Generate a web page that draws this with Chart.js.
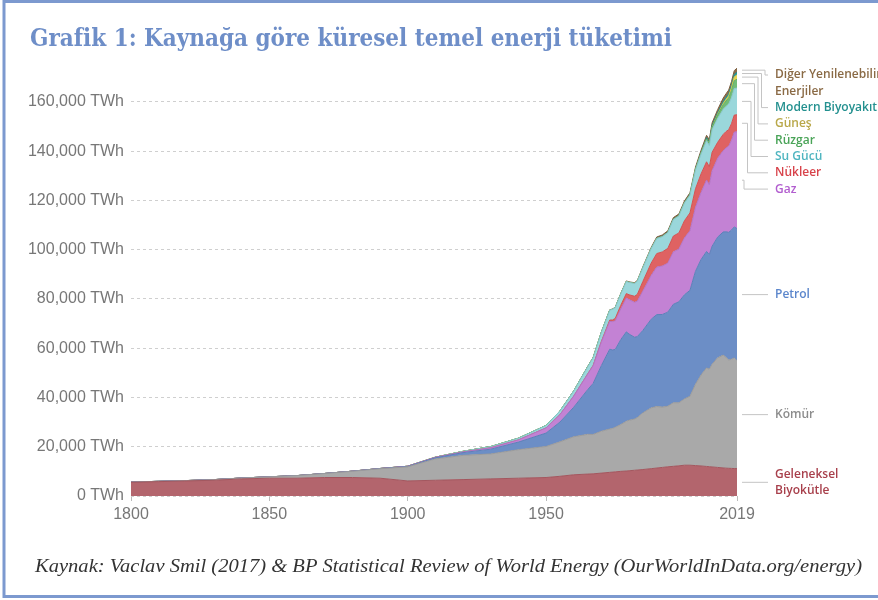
<!DOCTYPE html>
<html lang="tr">
<head>
<meta charset="utf-8">
<title>Grafik 1</title>
<script src="https://cdn.jsdelivr.net/npm/chart.js@4.4.0/dist/chart.umd.min.js"></script>
<style>
  html, body { margin: 0; padding: 0; background: #fff; }
  #kutu { position: relative; width: 878px; height: 600px; overflow: hidden; }
</style>
</head>
<body>
<div id="kutu"><canvas id="grafik" width="878" height="600"></canvas></div>
<script>
// Yıllar (1965'ten sonra seçilmiş yıllar)
var yillar = [1800, 1810, 1820, 1830, 1840, 1850, 1860, 1870, 1880, 1890,
  1900, 1910, 1920, 1930, 1940, 1950, 1955, 1960, 1965, 1967,
  1970, 1973, 1974, 1975, 1977, 1979, 1980, 1982, 1983, 1985,
  1988, 1990, 1992, 1994, 1996, 1998, 2000, 2002, 2004, 2006,
  2008, 2009, 2010, 2012, 2014, 2015, 2016, 2017, 2018, 2019];

// Kaynaklara göre tüketim (TWh)
var gelenekselBiyokutle = [5556, 5833, 6111, 6389, 6944, 7222, 7222, 7500, 7500, 7222,
  6111, 6389, 6667, 6944, 7222, 7500, 8000, 8611, 8900, 9000,
  9300, 9600, 9700, 9800, 10000, 10150, 10250, 10450, 10550, 10750,
  11100, 11350, 11600, 11850, 12050, 12250, 12500, 12500, 12350, 12200,
  12000, 11900, 11800, 11600, 11400, 11300, 11250, 11200, 11150, 11111];
var komur = [97, 128, 153, 264, 356, 569, 1061, 1642, 2542, 3856,
  5728, 8656, 9833, 10125, 11586, 12603, 14000, 15442, 16140, 16000,
  17000, 17600, 17700, 18100, 19000, 20200, 20500, 20800, 21300, 23000,
  24700, 25000, 24500, 24600, 25800, 25600, 26900, 28000, 33000, 36900,
  40000, 39600, 41700, 44500, 45800, 45000, 44000, 44300, 44900, 43849];
var petrol = [0, 0, 0, 0, 0, 0, 0, 6, 33, 89,
  181, 461, 1111, 1950, 3089, 5444, 8000, 12000, 18100, 20700,
  26700, 32400, 31900, 31600, 34500, 36300, 35000, 33200, 32900, 33500,
  36000, 37300, 37600, 38200, 40000, 41000, 42300, 43000, 45900, 46900,
  47300, 46500, 47900, 49000, 50000, 51000, 51800, 52500, 53200, 53620];
var gaz = [0, 0, 0, 0, 0, 0, 0, 0, 0, 0,
  64, 161, 233, 553, 875, 2092, 3000, 4500, 6300, 7200,
  9600, 11300, 11500, 11600, 12500, 13700, 14000, 14200, 14400, 16000,
  17800, 19300, 19700, 19900, 21300, 21400, 23100, 24200, 26000, 27200,
  29000, 28400, 30700, 32000, 33000, 34000, 35000, 36400, 38500, 39292];
var nukleer = [0, 0, 0, 0, 0, 0, 0, 0, 0, 0,
  0, 0, 0, 0, 0, 0, 0, 20, 70, 110,
  220, 540, 680, 1000, 1450, 1850, 1950, 2450, 2750, 3900,
  5000, 5500, 5700, 6000, 6400, 6550, 6950, 7250, 7500, 7550,
  7400, 7300, 7450, 6500, 6600, 6650, 6700, 6750, 6900, 6923];
var suGucu = [0, 0, 0, 0, 0, 0, 0, 0, 0, 0,
  0, 100, 300, 500, 700, 1000, 1500, 2100, 2900, 3150,
  3700, 4000, 4300, 4400, 4600, 4900, 5000, 5200, 5350, 5600,
  5900, 6100, 6200, 6400, 6700, 6900, 7200, 7200, 7600, 8100,
  8600, 8600, 9200, 9700, 10200, 10200, 10400, 10600, 10800, 10855];
var ruzgar = [0, 0, 0, 0, 0, 0, 0, 0, 0, 0,
  0, 0, 0, 0, 0, 0, 0, 0, 0, 0,
  0, 0, 0, 0, 0, 0, 0, 0, 0, 0,
  5, 10, 20, 30, 50, 80, 85, 140, 230, 350,
  580, 730, 900, 1400, 1860, 2200, 2500, 2900, 3200, 3540];
var gunes = [0, 0, 0, 0, 0, 0, 0, 0, 0, 0,
  0, 0, 0, 0, 0, 0, 0, 0, 0, 0,
  0, 0, 0, 0, 0, 0, 0, 0, 0, 0,
  0, 0, 0, 0, 0, 0, 0, 0, 5, 15,
  35, 55, 90, 260, 500, 650, 850, 1160, 1470, 1793];
var modernBiyoyakit = [0, 0, 0, 0, 0, 0, 0, 0, 0, 0,
  0, 0, 0, 0, 0, 0, 0, 0, 0, 0,
  0, 0, 0, 0, 0, 0, 0, 0, 0, 0,
  0, 120, 120, 130, 130, 130, 110, 130, 180, 300,
  580, 620, 690, 700, 850, 870, 880, 930, 1030, 1111];
var digerYenilenebilir = [0, 0, 0, 0, 0, 0, 0, 0, 0, 0,
  0, 0, 0, 0, 0, 0, 0, 0, 90, 100,
  120, 150, 160, 170, 200, 240, 260, 300, 320, 380,
  450, 500, 540, 560, 600, 620, 650, 700, 770, 850,
  950, 1000, 1100, 1200, 1350, 1400, 1450, 1500, 1560, 1614];

// Eksen etiketleri
var xEtiketleri = [1800, 1850, 1900, 1950, 2019];
var yEtiketleri = [0, 20000, 40000, 60000, 80000, 100000, 120000, 140000, 160000];

// Seriler: aşağıdan yukarı
var seriler = [
  { ad: ['Geleneksel', 'Biyokütle'], veri: gelenekselBiyokutle, renk: '#b3656d', cizgi: '#a2565e', yazi: '#a8404c' },
  { ad: ['Kömür'], veri: komur, renk: '#a9a9a9', cizgi: '#9a9a9a', yazi: '#8c8c8c' },
  { ad: ['Petrol'], veri: petrol, renk: '#6c8ec6', cizgi: '#5d7fb8', yazi: '#5b86cc' },
  { ad: ['Gaz'], veri: gaz, renk: '#c382d4', cizgi: '#b273c4', yazi: '#b25ecf' },
  { ad: ['Nükleer'], veri: nukleer, renk: '#df6262', cizgi: '#cf5454', yazi: '#d8434b' },
  { ad: ['Su Gücü'], veri: suGucu, renk: '#9ad7db', cizgi: '#88c6ca', yazi: '#4fb5c0' },
  { ad: ['Rüzgar'], veri: ruzgar, renk: '#72bd77', cizgi: '#62ad67', yazi: '#4aa458' },
  { ad: ['Güneş'], veri: gunes, renk: '#e6d855', cizgi: '#d6c845', yazi: '#b9a84a' },
  { ad: ['Modern Biyoyakıt'], veri: modernBiyoyakit, renk: '#2e9a9c', cizgi: '#25898b', yazi: '#23908f' },
  { ad: ['Diğer Yenilenebilir', 'Enerjiler'], veri: digerYenilenebilir, renk: '#8c6c4a', cizgi: '#7d5f40', yazi: '#8a6a45' }
];

var datasets = seriler.map(function (s, i) {
  return {
    label: s.ad.join(' '),
    data: yillar.map(function (yil, j) { return { x: yil, y: s.veri[j] }; }),
    backgroundColor: s.renk,
    borderColor: s.cizgi,
    borderWidth: 1,
    pointRadius: 0,
    fill: i === 0 ? 'origin' : '-1',
    tension: 0
  };
});

// Metni verilen genişliğe sığdırarak yazar
function sigdirYaz(ctx, metin, x, y, genislik) {
  var w = ctx.measureText(metin).width;
  ctx.save();
  ctx.translate(x, y);
  ctx.scale(genislik / w, 1);
  ctx.fillText(metin, 0, 0);
  ctx.restore();
}

// Çerçeve, başlık ve kaynak
var cercevePlugin = {
  id: 'cerceve',
  beforeDraw: function (chart) {
    var ctx = chart.ctx;
    ctx.save();
    ctx.strokeStyle = '#7c99cf';
    ctx.lineWidth = 3;
    ctx.beginPath();
    ctx.moveTo(900, 1.5); ctx.lineTo(4, 1.5); ctx.lineTo(4, 596.5); ctx.lineTo(900, 596.5);
    ctx.stroke();
    ctx.fillStyle = '#6e8ec8';
    ctx.font = 'bold 24px "DejaVu Serif"';
    ctx.textBaseline = 'alphabetic';
    sigdirYaz(ctx, 'Grafik 1: Kaynağa göre küresel temel enerji tüketimi', 30, 46, 642);
    ctx.fillStyle = '#333';
    ctx.font = 'italic 19px "Liberation Serif"';
    sigdirYaz(ctx, 'Kaynak: Vaclav Smil (2017) & BP Statistical Review of World Energy (OurWorldInData.org/energy)', 35, 572, 827);
    ctx.restore();
  }
};

// Sağdaki seri etiketleri ve bağlantı çizgileri
var etiketPlugin = {
  id: 'etiketler',
  afterDatasetsDraw: function (chart) {
    var ctx = chart.ctx, y = chart.scales.y, alan = chart.chartArea;
    var son = yillar.length - 1, toplam = 0, lh = 16.3;
    var liste = seriler.map(function (s) {
      var alt = toplam;
      toplam += s.veri[son];
      return { s: s, orta: y.getPixelForValue((alt + toplam) / 2) };
    }).reverse();
    var onceki = -Infinity;
    liste.forEach(function (e) {
      var hedef = e.orta - (e.s.ad.length - 1) * lh / 2;
      e.ilk = Math.max(hedef, alan.top + 10, onceki + lh);
      e.kaydi = e.ilk - hedef > 0.5;
      onceki = e.ilk + (e.s.ad.length - 1) * lh;
    });
    ctx.save();
    ctx.strokeStyle = '#c4c4c4';
    ctx.lineWidth = 1;
    var k = 0;
    liste.forEach(function (e) {
      var x0 = alan.right + 5, x1 = alan.right + 31;
      ctx.beginPath();
      if (e.kaydi) {
        var xd = alan.right + 28 - k * 3.5;
        k++;
        ctx.moveTo(x0, e.orta); ctx.lineTo(xd, e.orta); ctx.lineTo(xd, e.ilk); ctx.lineTo(x1, e.ilk);
      } else {
        var yo = e.ilk + (e.s.ad.length - 1) * lh / 2;
        ctx.moveTo(x0, yo); ctx.lineTo(x1, yo);
      }
      ctx.stroke();
      ctx.fillStyle = e.s.yazi;
      ctx.font = '600 12px "Open Sans"';
      ctx.textBaseline = 'middle';
      e.s.ad.forEach(function (satir, i) {
        ctx.fillText(satir, alan.right + 38, e.ilk + i * lh);
      });
    });
    ctx.restore();
  }
};

var ctx = document.getElementById('grafik').getContext('2d');
var grafik = new Chart(ctx, {
  type: 'line',
  data: { datasets: datasets },
  options: {
    responsive: false,
    animation: false,
    devicePixelRatio: 1,
    layout: { padding: { left: 0, right: 141, top: 65, bottom: 0 } },
    plugins: { legend: { display: false }, tooltip: { enabled: false } },
    scales: {
      x: {
        type: 'linear',
        min: 1800,
        max: 2019,
        afterBuildTicks: function (scale) {
          scale.ticks = xEtiketleri.map(function (v) { return { value: v }; });
        },
        afterFit: function (scale) { scale.height = 104; },
        grid: { drawOnChartArea: false, drawTicks: true, tickLength: 5, color: '#bbb' },
        border: { display: false },
        ticks: {
          padding: 4,
          color: '#777',
          font: { family: '"Liberation Sans"', size: 16 },
          maxRotation: 0,
          callback: function (v) { return String(v); }
        }
      },
      y: {
        stacked: true,
        min: 0,
        max: 175000,
        afterBuildTicks: function (scale) {
          scale.ticks = yEtiketleri.map(function (v) { return { value: v }; });
        },
        afterFit: function (scale) { scale.width = 131; },
        grid: { color: '#cfcfcf', drawTicks: false },
        border: { display: false, dash: [3, 3] },
        ticks: {
          padding: 7,
          color: '#777',
          font: { family: '"Liberation Sans"', size: 16 },
          callback: function (v) { return v.toLocaleString('en-US') + ' TWh'; }
        }
      }
    }
  },
  plugins: [cercevePlugin, etiketPlugin]
});
</script>
</body>
</html>
